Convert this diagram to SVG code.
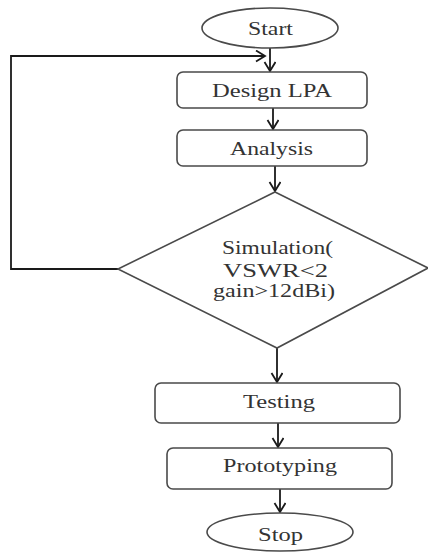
<svg xmlns="http://www.w3.org/2000/svg" width="428" height="554" viewBox="0 0 428 554">
<style>
.box{fill:#fff;stroke:#4a4a4a;stroke-width:1.6}
.t{font-family:"Liberation Serif","Times New Roman",serif;font-size:19px;fill:#333}
.c{fill:none;stroke:#1a1a1a;stroke-width:1.8}
</style>
<defs>
<marker id="ah" markerUnits="userSpaceOnUse" markerWidth="14" markerHeight="14" refX="10" refY="6" orient="auto">
<path d="M1,0.5 L10,6 L1,11.5" fill="none" stroke="#1a1a1a" stroke-width="1.8"/>
</marker>
</defs>
<rect width="428" height="554" fill="#fff"/>
<g id="connectors">
<path class="c" d="M270,48 V71" marker-end="url(#ah)"/>
<path class="c" d="M118,269 H11 V56 H265" marker-end="url(#ah)"/>
<path class="c" d="M273,108 V129" marker-end="url(#ah)"/>
<path class="c" d="M275,166 V191" marker-end="url(#ah)"/>
<path class="c" d="M277,348 V382" marker-end="url(#ah)"/>
<path class="c" d="M278,423 V447" marker-end="url(#ah)"/>
<path class="c" d="M280,489 V512" marker-end="url(#ah)"/>
</g>
<g id="start">
<ellipse class="box" cx="270" cy="28" rx="68" ry="20"/>
<text class="t" x="248" y="35" textLength="45" lengthAdjust="spacingAndGlyphs">Start</text>
</g>
<g id="design">
<rect class="box" x="177" y="72" width="190" height="36" rx="6"/>
<text class="t" x="212" y="97" textLength="120" lengthAdjust="spacingAndGlyphs">Design LPA</text>
</g>
<g id="analysis">
<rect class="box" x="177" y="130" width="190" height="36" rx="6"/>
<text class="t" x="230" y="155" textLength="83" lengthAdjust="spacingAndGlyphs">Analysis</text>
</g>
<g id="simulation">
<polygon class="box" points="275,192 428,268 277,348 118,269"/>
<text class="t" x="222" y="254" textLength="111" lengthAdjust="spacingAndGlyphs">Simulation(</text>
<text class="t" x="223" y="277" textLength="105" lengthAdjust="spacingAndGlyphs">VSWR&lt;2</text>
<text class="t" x="213" y="297" textLength="122" lengthAdjust="spacingAndGlyphs">gain&gt;12dBi)</text>
</g>
<g id="testing">
<rect class="box" x="155" y="383" width="245" height="40" rx="6"/>
<text class="t" x="243" y="408" textLength="72" lengthAdjust="spacingAndGlyphs">Testing</text>
</g>
<g id="prototyping">
<rect class="box" x="167" y="448" width="225" height="41" rx="6"/>
<text class="t" x="223" y="472" textLength="114" lengthAdjust="spacingAndGlyphs">Prototyping</text>
</g>
<g id="stop">
<ellipse class="box" cx="280" cy="532" rx="73" ry="19"/>
<text class="t" x="258" y="541" textLength="45" lengthAdjust="spacingAndGlyphs">Stop</text>
</g>
</svg>
